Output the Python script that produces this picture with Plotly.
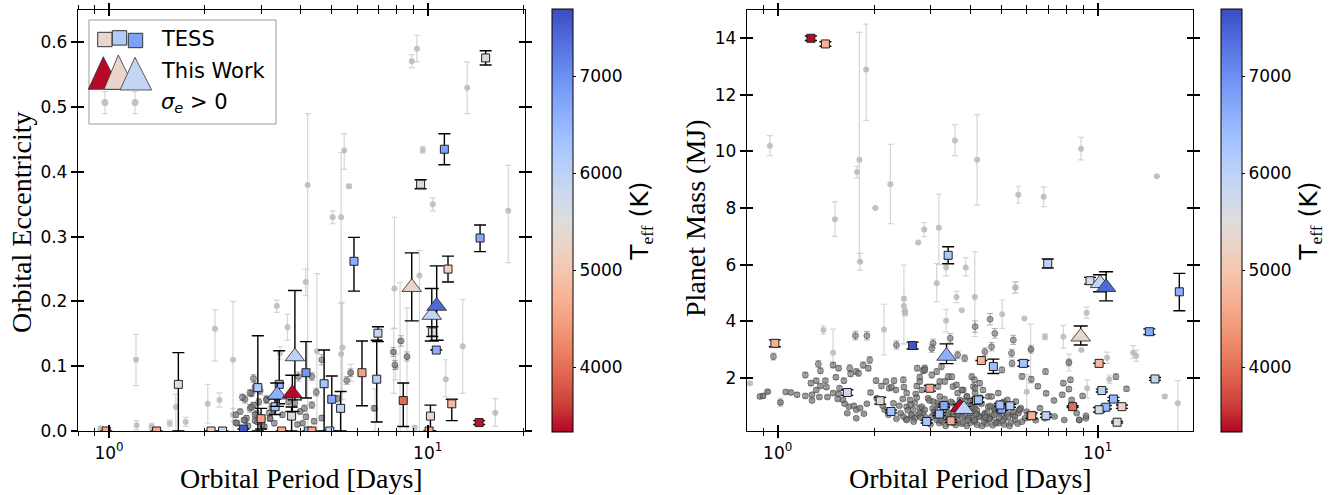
import math
import plotly.graph_objects as go

# ---------------- LEFT PANEL: eccentricity vs period ----------------
# background planets with sigma_e > 0 (light, with error bars)
ecc_bg_period = [1.215, 2.15, 2.45, 3.36, 3.44, 3.63, 4.14, 4.2, 5.47, 5.35, 5.66, 5.03, 8.91, 9.25, 9.65,
                 10.37, 13.3, 17.9, 7.86, 9.42, 8.19, 8.61, 7.82, 7.93, 12.88, 11.4, 16.3, 4.49, 5.35, 5.73,
                 6.84, 9.1, 1.62, 1.74, 1.55, 1.36, 1.22, 0.94, 2.04, 2.22, 2.45, 5.4]
ecc_bg_value = [0.11, 0.158, 0.11, 0.193, 0.12, 0.16, 0.23, 0.38, 0.433, 0.33, 0.378, 0.33, 0.571, 0.59, 0.434,
                0.35, 0.53, 0.34, 0.22, 0.24, 0.139, 0.114, 0.122, 0.099, 0.131, 0.08, 0.028, 0.123, 0.119, 0.09,
                0.035, 0.005, 0.037, 0.014, 0.012, 0.007, 0.009, 0.004, 0.042, 0.048, 0.025, 0.129]
ecc_bg_up = [0.039, 0.029, 0.09, 0.009, 0.01, 0.02, 0.02, 0.11, 0.026, 0.10, 0.003, 0.01, 0.01, 0.021, 0.005,
             0.01, 0.04, 0.07, 0.11, 0.039, 0.09, 0.076, 0.037, 0.02, 0.072, 0.03, 0.022, 0.12, 0.078, 0.013,
             0.03, 0.003, 0.02, 0.007, 0.005, 0.005, 0.007, 0.003, 0.03, 0.011, 0.01, 0.07]
ecc_bg_down = [0.04, 0.05, 0.11, 0.01, 0.01, 0.02, 0.021, 0.38, 0.029, 0.33, 0.003, 0.01, 0.01, 0.02, 0.005,
               0.01, 0.04, 0.08, 0.062, 0.24, 0.139, 0.114, 0.064, 0.02, 0.073, 0.027, 0.021, 0.123, 0.071, 0.013,
               0.035, 0.005, 0.037, 0.007, 0.005, 0.005, 0.007, 0.003, 0.03, 0.011, 0.01, 0.08]

# dense cluster of background planets (darker)
ecc_cl_period = [2.84, 2.8, 2.87, 2.84, 2.77, 2.7, 2.67, 2.52, 2.87, 2.9, 3.2, 3.12, 3.28, 3.66, 3.83, 3.93,
                 4.33, 4.47, 4.65, 4.65, 5.57, 5.2, 6.79, 7.89, 8.25, 2.67, 2.77, 2.8, 2.5, 2.5, 2.65, 2.87,
                 2.92, 3.07, 3.12, 3.2, 3.24, 3.35, 3.18, 3.98, 4.1, 4.15, 4.05, 4.33, 5.73, 7.8, 8.61,
                 2.58, 2.73, 2.95, 3.02, 3.3, 3.5, 3.9, 4.4, 2.62, 2.98]
ecc_cl_value = [0.081, 0.058, 0.068, 0.04, 0.035, 0.02, 0.016, 0.012, 0.016, 0.027, 0.02, 0.049, 0.032, 0.045,
                0.043, 0.084, 0.04, 0.06, 0.11, 0.02, 0.078, 0.05, 0.035, 0.102, 0.139, 0.049, 0.059, 0.037,
                0.013, 0.025, 0.017, 0.025, 0.014, 0.007, 0.048, 0.019, 0.037, 0.051, 0.028, 0.03, 0.035,
                0.022, 0.012, 0.084, 0.09, 0.122, 0.115,
                0.03, 0.008, 0.045, 0.009, 0.012, 0.025, 0.01, 0.015, 0.052, 0.062]
ecc_cl_err = [0.006, 0.005, 0.008, 0.004, 0.006, 0.004, 0.003, 0.004, 0.003, 0.005, 0.004, 0.006, 0.004, 0.005,
              0.006, 0.007, 0.005, 0.006, 0.008, 0.004, 0.006, 0.005, 0.004, 0.007, 0.008, 0.006, 0.005, 0.004,
              0.003, 0.004, 0.003, 0.004, 0.003, 0.003, 0.005, 0.004, 0.005, 0.006, 0.004, 0.004, 0.005,
              0.004, 0.003, 0.006, 0.006, 0.007, 0.007,
              0.004, 0.003, 0.005, 0.003, 0.004, 0.004, 0.003, 0.004, 0.005, 0.006]

# TESS planets
ecc_tess_period = [1.65, 0.98, 1.41, 2.09, 2.27, 2.64, 3.0, 2.93, 3.32, 3.42, 3.74, 3.48, 4.15, 4.22, 5.87,
                   11.58, 14.6, 10.34, 10.64, 6.98, 6.92, 6.22, 8.38, 10.2, 10.1, 11.9, 14.5, 5.0, 4.73,
                   5.33, 4.93, 4.33, 15.2, 11.28, 9.5]
ecc_tess_value = [0.072, 0.0, 0.0, 0.0, 0.0, 0.003, 0.019, 0.067, 0.0375, 0.072, 0.023, 0.0, 0.09, 0.0, 0.262,
                  0.25, 0.298, 0.153, 0.125, 0.151, 0.08, 0.09, 0.047, 0.023, 0.0, 0.042, 0.013, 0.049, 0.073,
                  0.035, 0.0, 0.0, 0.576, 0.435, 0.381]
ecc_tess_up = [0.049, 0, 0, 0, 0, 0, 0.016, 0.08, 0.012, 0.052, 0.014, 0, 0.048, 0, 0.037,
               0.02, 0.02, 0.008, 0, 0.01, 0.06, 0.049, 0.027, 0.017, 0, 0.007, 0.003, 0.036, 0.052,
               0.026, 0, 0, 0.011, 0.024, 0.007]
ecc_tess_down = [0.072, 0, 0, 0, 0, 0, 0.016, 0.067, 0.012, 0.03, 0.023, 0, 0.039, 0, 0.046,
                 0.02, 0.021, 0.007, 0, 0.013, 0.066, 0.051, 0.04, 0.023, 0, 0.026, 0.003, 0.049, 0.073,
                 0.035, 0, 0, 0.011, 0.024, 0.007]
ecc_tess_teff = [5500, 4600, 4600, 5200, 5900, 7600, 4500, 6200, 6300, 6500, 5400, 4600, 6900, 6500, 6600,
                 5200, 6700, 5600, 6600, 5900, 6100, 4500, 3950, 5300, 4600, 4800, 3400, 6700, 6300,
                 6000, 5900, 4600, 5600, 6800, 5400]

# This Work
ecc_new_period = [3.37, 3.83, 3.76, 8.91, 10.3, 10.67]
ecc_new_value = [0.056, 0.115, 0.058, 0.222, 0.179, 0.193]
ecc_new_up = [0.018, 0.102, 0.028, 0.053, 0.041, 0.062]
ecc_new_down = [0.018, 0.067, 0.028, 0.052, 0.04, 0.053]
ecc_new_teff = [6600, 6000, 3350, 5300, 5900, 7400]

# ---------------- RIGHT PANEL: planet mass vs period ----------------
mass_bg_period = [0.946, 1.89, 1.80, 1.77, 1.51, 2.02, 2.25, 2.75, 2.87, 3.19, 3.58, 4.2, 5.65, 6.78, 8.87,
                  15.3, 1.81, 1.39, 1.49, 2.15, 2.48, 2.5, 3.14, 3.36, 3.62, 3.87, 3.76, 4.13, 5.03, 5.52,
                  5.9, 6.17, 7.81, 8.89, 9.23, 10.7, 12.9, 13.2, 16.2, 17.8, 0.82, 0.9, 0.93, 1.02, 6.84,
                  8.13, 9.27, 6.0, 2.48, 2.5, 5.54, 10.87, 3.36]
mass_bg_value = [10.2, 12.9, 9.71, 9.27, 7.6, 8.0, 8.84, 6.78, 7.24, 7.3, 10.39, 9.71, 8.47, 8.4, 10.1,
                 9.12, 6.1, 3.69, 2.89, 3.71, 4.8, 4.34, 5.34, 5.9, 4.86, 5.9, 4.39, 4.86, 4.25, 5.18,
                 4.1, 3.0, 3.45, 2.98, 4.3, 2.71, 2.89, 2.78, 1.34, 1.1, 1.81, 1.36, 1.51, 1.13, 3.45,
                 2.54, 1.63, 1.51, 4.54, 4.3, 5.2, 1.95, 4.02]
mass_bg_up = [0.36, 1.6, 4.5, 0.2, 0.62, 0, 1.41, 0, 0.25, 1.19, 0.56, 1.59, 0.3, 0.35, 0.4,
              0, 0.3, 0.15, 0.83, 0.89, 1.18, 0.1, 0.7, 0.3, 0.2, 0.35, 0, 1.6, 0.5, 0.2,
              0, 0.9, 0.4, 0, 0.2, 0.2, 0.25, 0.2, 0.06, 0.8, 0.05, 0.05, 0.05, 0.15, 0.1,
              0.3, 0.3, 0.6, 0.2, 0.1, 0.2, 0.15, 0.4]
mass_bg_down = [0.35, 1.8, 3.6, 0.2, 0.6, 0, 1.39, 0, 0.25, 1.3, 0.54, 1.61, 0.3, 0.35, 0.4,
                0, 0.3, 0.15, 0.5, 0.9, 1.6, 0.1, 0.65, 0.3, 0.2, 0.3, 0, 1.4, 0.5, 0.2,
                0, 1.2, 0.4, 0, 0.2, 0.2, 0.2, 0.2, 0.06, 1.1, 0.05, 0.05, 0.05, 0.15, 0.1,
                0.3, 0.35, 0.8, 0.2, 0.1, 0.2, 0.15, 0.4]

mass_cl_period = [0.88, 0.93, 1.02, 1.1, 1.22, 1.22, 1.28, 1.27, 1.32, 1.34, 1.36, 1.41, 1.49, 1.55, 1.52, 1.36,
                  1.43, 1.35, 1.42, 1.32, 1.28, 1.49, 1.55, 1.56, 1.61, 1.68, 1.69, 1.76, 1.79, 1.54, 1.6,
                  1.62, 1.67, 1.73, 1.76, 1.81, 1.86, 1.76, 1.65, 1.9, 1.95, 2.04, 2.11, 2.18, 2.23, 2.27,
                  2.31, 2.34, 2.16, 2.13, 2.22, 2.47, 2.48, 2.53, 2.46, 2.59, 2.53, 2.68, 2.65, 2.62, 2.75,
                  2.78, 2.85, 2.7, 2.72, 2.78, 2.85, 2.88, 2.3, 2.4, 2.42, 2.52, 2.35, 0.97, 1.85, 1.92,
                  1.94, 2.03, 2.35, 1.75, 1.9, 2.47, 2.53, 2.62, 2.68, 2.78, 2.82, 2.88, 3.03, 3.1, 3.14,
                  3.25, 3.3, 3.41, 3.53, 3.58, 3.62, 3.67, 3.99, 4.04, 4.09, 4.14, 4.28, 4.44, 4.49, 4.66,
                  4.77, 4.83, 5.13, 5.42, 5.52, 5.7, 3.21, 3.06, 2.95, 2.82, 2.78, 2.88, 2.73, 3.03, 3.21,
                  3.41, 3.53, 3.65, 3.71, 3.8, 3.9, 4.04, 4.09, 4.14, 4.28, 4.38, 4.55, 4.66, 4.89, 5.0,
                  5.22, 5.35, 5.55, 5.75, 3.06, 3.03, 4.14, 3.84, 3.65, 3.46, 4.44, 4.61, 4.77, 4.66, 5.02,
                  5.45, 5.38, 5.4, 6.19, 6.87, 8.13, 8.22, 7.81, 7.75, 8.13, 8.29, 8.76, 9.19, 6.84, 7.33,
                  5.93, 5.65, 4.77, 4.55, 4.44, 4.14, 3.99, 3.9, 4.14, 4.12, 3.62, 3.76, 3.5, 3.33, 3.17,
                  3.14, 3.25, 3.0, 3.2, 3.35, 3.5, 3.6, 3.75, 3.9, 4.0, 4.2, 4.35, 4.5, 4.7, 4.9, 5.1,
                  5.3, 2.9, 3.1, 3.3, 3.45, 3.7, 3.85, 4.2, 4.6, 5.0, 6.0, 6.4, 6.6, 5.7, 8.6, 9.19,
                  8.75, 7.86, 8.97, 11.4, 12.3, 6.9, 7.3, 6.5, 6.2, 5.8, 0.9, 1.06, 1.15,
                  2.95, 3.05, 3.12, 3.18, 3.27, 3.38, 3.44, 3.52, 3.57, 3.64, 3.7, 3.79, 3.88, 3.95, 4.02,
                  4.11, 4.19, 4.25, 4.33, 4.41, 4.52, 4.58, 4.72, 4.8, 4.95, 5.05, 5.2, 5.35, 5.5, 5.62,
                  2.98, 3.08, 3.16, 3.23, 3.32, 3.4, 3.48, 3.55, 3.68, 3.77, 3.86, 3.93, 4.07, 4.16, 4.3,
                  4.46, 4.62, 4.75, 4.92, 5.08, 5.25, 5.45, 5.8, 6.1, 6.3, 2.55, 2.6, 2.66, 2.72, 2.8]
mass_cl_value = [1.34, 1.51, 1.13, 1.48, 2.1, 1.36, 1.2, 1.81, 1.9, 2.49, 2.25, 1.9, 2.45, 2.34, 2.02, 1.71,
                 1.32, 1.32, 1.67, 1.57, 1.4, 1.46, 1.43, 1.63, 1.9, 2.34, 2.14, 2.22, 2.16, 1.25, 1.22,
                 1.08, 0.98, 1.01, 0.87, 0.93, 0.73, 0.57, 0.75, 1.08, 1.48, 1.28, 1.71, 1.87, 1.63, 1.67,
                 1.9, 1.57, 0.87, 1.01, 0.69, 1.93, 1.67, 1.46, 1.25, 1.22, 0.98, 1.1, 0.87, 0.63, 0.69,
                 0.93, 0.77, 1.43, 1.71, 2.02, 2.25, 2.34, 1.1, 1.01, 0.75, 0.54, 0.55, 2.75, 2.45, 2.34,
                 2.63, 1.9, 3.16, 3.49, 3.49, 0.63, 0.51, 0.69, 0.57, 0.75, 0.98, 0.87, 0.63, 0.87, 0.51,
                 0.63, 0.57, 0.75, 0.63, 0.87, 0.51, 0.69, 0.75, 0.57, 0.93, 0.45, 0.63, 0.75, 0.51, 0.63,
                 0.81, 0.45, 0.57, 0.69, 0.51, 0.87, 1.34, 1.16, 1.28, 1.57, 1.87, 2.28, 2.34, 2.1, 1.87,
                 2.04, 1.69, 1.46, 1.22, 1.57, 1.34, 2.04, 1.69, 1.46, 1.81, 1.57, 1.34, 1.34, 1.46, 1.1,
                 1.22, 0.98, 1.16, 0.93, 3.22, 3.04, 3.81, 2.69, 2.81, 3.4, 2.92, 4.07, 3.57, 3.1, 2.28,
                 3.34, 2.87, 2.51, 3.01, 2.22, 2.54, 1.93, 1.81, 1.4, 1.6, 1.22, 0.51, 0.57, 0.57, 0.63,
                 0.57, 0.75, 0.87, 0.98, 0.69, 0.93, 1.16, 1.34, 1.63, 1.93, 1.75, 1.57, 2.04, 1.87, 1.69,
                 2.22, 2.4, 0.35, 0.4, 0.3, 0.42, 0.33, 0.38, 0.3, 0.41, 0.34, 0.3, 0.38, 0.32, 0.4, 0.35,
                 0.3, 0.6, 0.7, 0.85, 0.55, 0.8, 0.65, 0.72, 0.55, 0.7, 0.8, 0.5, 0.93, 0.87, 0.75, 0.66,
                 0.51, 0.51, 1.36, 2.04, 1.61, 1.45, 1.2, 1.7, 1.95, 2.05, 1.36, 1.5, 1.4,
                 0.48, 0.92, 0.66, 1.05, 0.46, 0.95, 0.6, 1.1, 0.44, 0.98, 0.7, 0.42, 0.9, 0.58, 1.02,
                 0.5, 0.85, 0.62, 1.08, 0.45, 0.78, 0.55, 0.95, 0.4, 0.82, 0.48, 0.74, 0.42, 0.66, 0.38,
                 1.2, 0.78, 1.12, 0.52, 1.25, 0.68, 1.15, 0.8, 1.05, 0.62, 1.18, 0.5, 1.12, 0.72, 1.3,
                 0.6, 1.0, 0.7, 0.6, 1.15, 0.62, 0.8, 0.45, 0.6, 0.72, 0.85, 1.05, 0.45, 1.3, 0.6]
mass_cl_err = [0.06, 0.05, 0.08, 0.06, 0.1, 0.07, 0.06, 0.09, 0.08, 0.12, 0.1, 0.08, 0.1, 0.09, 0.08, 0.07,
               0.06, 0.06, 0.07, 0.07, 0.06, 0.07, 0.06, 0.08, 0.09, 0.12, 0.1, 0.1, 0.1, 0.06, 0.06,
               0.05, 0.05, 0.05, 0.04, 0.05, 0.04, 0.04, 0.04, 0.05, 0.07, 0.06, 0.08, 0.09, 0.08, 0.08,
               0.09, 0.07, 0.05, 0.05, 0.04, 0.1, 0.08, 0.07, 0.06, 0.06, 0.05, 0.06, 0.05, 0.04, 0.04,
               0.05, 0.04, 0.07, 0.08, 0.1, 0.1, 0.11, 0.06, 0.05, 0.04, 0.03, 0.03, 0.12, 0.11, 0.1,
               0.12, 0.09, 0.15, 0.15, 0.15, 0.04, 0.03, 0.04, 0.03, 0.04, 0.05, 0.05, 0.04, 0.05, 0.03,
               0.04, 0.03, 0.04, 0.04, 0.05, 0.03, 0.04, 0.04, 0.03, 0.05, 0.03, 0.04, 0.04, 0.03, 0.04,
               0.05, 0.03, 0.03, 0.04, 0.03, 0.05, 0.07, 0.06, 0.06, 0.08, 0.09, 0.1, 0.1, 0.1, 0.09,
               0.1, 0.08, 0.07, 0.06, 0.08, 0.07, 0.1, 0.08, 0.07, 0.09, 0.08, 0.07, 0.07, 0.07, 0.06,
               0.06, 0.05, 0.06, 0.05, 0.15, 0.14, 0.2, 0.12, 0.13, 0.16, 0.14, 0.2, 0.17, 0.15, 0.1,
               0.16, 0.14, 0.12, 0.14, 0.1, 0.12, 0.09, 0.09, 0.07, 0.08, 0.06, 0.03, 0.03, 0.03, 0.03,
               0.03, 0.04, 0.05, 0.05, 0.04, 0.05, 0.06, 0.07, 0.08, 0.09, 0.08, 0.08, 0.1, 0.09, 0.08,
               0.1, 0.12, 0.02, 0.02, 0.02, 0.02, 0.02, 0.02, 0.02, 0.02, 0.02, 0.02, 0.02, 0.02, 0.02, 0.02,
               0.02, 0.03, 0.04, 0.04, 0.03, 0.04, 0.03, 0.04, 0.03, 0.04, 0.04, 0.03, 0.05, 0.05, 0.04, 0.03,
               0.03, 0.03, 0.07, 0.1, 0.08, 0.07, 0.06, 0.08, 0.1, 0.1, 0.07, 0.07, 0.07,
               0.03, 0.05, 0.04, 0.05, 0.03, 0.05, 0.04, 0.06, 0.03, 0.05, 0.04, 0.03, 0.05, 0.04, 0.05,
               0.03, 0.05, 0.04, 0.06, 0.03, 0.05, 0.04, 0.05, 0.03, 0.05, 0.03, 0.04, 0.03, 0.04, 0.03,
               0.06, 0.04, 0.06, 0.03, 0.06, 0.04, 0.06, 0.05, 0.05, 0.04, 0.06, 0.03, 0.06, 0.04, 0.07,
               0.04, 0.05, 0.04, 0.04, 0.06, 0.04, 0.05, 0.03, 0.04, 0.05, 0.05, 0.06, 0.03, 0.07, 0.04]

mass_tess_period = [1.27, 1.41, 0.98, 3.41, 2.64, 1.65, 2.09, 2.26, 2.99, 2.92, 3.2, 3.31, 3.48, 4.18, 4.24,
                    4.33, 4.72, 5.86, 5.01, 5.32, 4.95, 6.22, 6.98, 9.46, 17.99, 14.5, 10.1, 15.1, 10.3,
                    11.2, 10.6, 11.9, 10.1, 11.5, 8.35, 6.89]
mass_tess_value = [14.0, 13.8, 3.22, 6.33, 3.14, 1.48, 1.19, 0.81, 1.63, 0.455, 0.72, 1.02, 0.48, 1.2, 1.22,
                   2.61, 2.4, 2.51, 0.89, 1.01, 1.04, 0.66, 6.04, 5.43, 5.04, 3.63, 2.51, 1.96, 1.55,
                   1.25, 0.96, 0.98, 0.87, 0.43, 0.98, 0.66]
mass_tess_up = [0.08, 0.08, 0.12, 0.3, 0.12, 0.1, 0.12, 0.05, 0.1, 0.05, 0.05, 0.05, 0.05, 0.08, 0.08,
                0, 0.26, 0.1, 0.05, 0.05, 0.05, 0.1, 0.16, 0.12, 0.65, 0.1, 0, 0.05, 0.05,
                0.06, 0.06, 0.06, 0.08, 0.03, 0.03, 0.06]
mass_tess_down = [0.08, 0.08, 0.12, 0.3, 0.12, 0.1, 0.12, 0.05, 0.1, 0.05, 0.05, 0.05, 0.05, 0.08, 0.08,
                  0, 0.25, 0.1, 0.05, 0.05, 0.05, 0.1, 0.16, 0.12, 0.67, 0.1, 0, 0.05, 0.05,
                  0.06, 0.06, 0.06, 0.08, 0.03, 0.03, 0.06]
mass_tess_teff = [3350, 4700, 4700, 6200, 7600, 5800, 5300, 6300, 4600, 6300, 6300, 6700, 4600, 6700, 6300,
                  4700, 6400, 6300, 6700, 6100, 6300, 4700, 6000, 5700, 6600, 6700, 4800, 5900, 6000,
                  6500, 6500, 5300, 5700, 5600, 4000, 6000]

mass_new_period = [3.37, 3.71, 3.82, 8.85, 10.17, 10.62]
mass_new_value = [2.77, 0.96, 0.89, 3.45, 5.34, 5.2]
mass_new_up = [0.43, 0.1, 0.1, 0.38, 0.3, 0.55]
mass_new_down = [0.27, 0.1, 0.1, 0.29, 0.3, 0.48]
mass_new_teff = [6600, 3350, 6000, 5300, 5900, 7400]

teff_ticks = [4000, 5000, 6000, 7000]
teff_min, teff_max = 3330, 7690

# ---------------- styling ----------------
CW = [(0.0, (59, 76, 192)), (0.0625, (77, 104, 215)), (0.125, (98, 130, 234)), (0.1875, (119, 154, 247)),
      (0.25, (141, 176, 254)), (0.3125, (163, 194, 255)), (0.375, (184, 208, 249)), (0.4375, (204, 217, 238)),
      (0.5, (221, 221, 221)), (0.5625, (236, 211, 197)), (0.625, (245, 196, 173)), (0.6875, (247, 177, 148)),
      (0.75, (244, 154, 123)), (0.8125, (236, 127, 99)), (0.875, (222, 96, 77)), (0.9375, (203, 62, 56)),
      (1.0, (180, 4, 38))]
# reversed coolwarm: low Teff red, high Teff blue
CW_R = sorted([(1 - p, c) for p, c in CW])
colorscale = [[p, "rgb(%d,%d,%d)" % c] for p, c in CW_R]


def teff_color(t):
    f = (t - teff_min) / (teff_max - teff_min)
    f = min(max(f, 0), 1)
    for (p0, c0), (p1, c1) in zip(CW_R[:-1], CW_R[1:]):
        if p0 <= f <= p1:
            w = (f - p0) / (p1 - p0) if p1 > p0 else 0
            return "rgb(%d,%d,%d)" % tuple(round(a + (b - a) * w) for a, b in zip(c0, c1))
    return "rgb(%d,%d,%d)" % CW_R[-1][1]


W, H = 1333, 495
TICKFONT = dict(family="DejaVu Sans", size=17, color="black")
TITLEFONT = dict(family="Liberation Serif", size=28, color="black")
LIGHT = "rgba(185,185,185,0.85)"
LIGHT_ERR = "rgba(195,195,195,0.7)"

fig = go.Figure()


def add_panel(xa, ya, ca, bgP, bgV, bgU, bgD, clP, clV, clE, tP, tV, tU, tD, tT, nP, nV, nU, nD, nT):
    fig.add_trace(go.Scatter(
        x=bgP, y=bgV, mode="markers", xaxis=xa, yaxis=ya, showlegend=False,
        marker=dict(size=6, color=LIGHT, line=dict(width=0)),
        error_y=dict(type="data", symmetric=False, array=bgU, arrayminus=bgD,
                     color=LIGHT_ERR, thickness=1.2, width=3)))
    fig.add_trace(go.Scatter(
        x=clP, y=clV, mode="markers", xaxis=xa, yaxis=ya, showlegend=False,
        marker=dict(size=6, color="rgba(120,120,120,0.65)", line=dict(width=0.8, color="rgba(45,45,45,0.6)")),
        error_y=dict(type="data", array=clE, color="rgba(105,105,105,0.5)", thickness=1, width=3)))
    fig.add_trace(go.Scatter(
        x=tP, y=tV, mode="markers", xaxis=xa, yaxis=ya, name="TESS", showlegend=False,
        marker=dict(symbol="square", size=8, color=tT, coloraxis=ca, line=dict(width=1, color="#222")),
        error_y=dict(type="data", symmetric=False, array=tU, arrayminus=tD,
                     color="black", thickness=1.4, width=6)))
    fig.add_trace(go.Scatter(
        x=nP, y=nV, mode="markers", xaxis=xa, yaxis=ya, name="This Work", showlegend=False,
        marker=dict(symbol="triangle-up", size=17, color=nT, coloraxis=ca, line=dict(width=0.8, color="#222")),
        error_y=dict(type="data", symmetric=False, array=nU, arrayminus=nD,
                     color="black", thickness=1.4, width=7)))


add_panel("x", "y", "coloraxis", ecc_bg_period, ecc_bg_value, ecc_bg_up, ecc_bg_down,
          ecc_cl_period, ecc_cl_value, ecc_cl_err,
          ecc_tess_period, ecc_tess_value, ecc_tess_up, ecc_tess_down, ecc_tess_teff,
          ecc_new_period, ecc_new_value, ecc_new_up, ecc_new_down, ecc_new_teff)
add_panel("x2", "y2", "coloraxis2", mass_bg_period, mass_bg_value, mass_bg_up, mass_bg_down,
          mass_cl_period, mass_cl_value, mass_cl_err,
          mass_tess_period, mass_tess_value, mass_tess_up, mass_tess_down, mass_tess_teff,
          mass_new_period, mass_new_value, mass_new_up, mass_new_down, mass_new_teff)

# empty traces that carry the inward half of the ticks
fig.add_trace(go.Scatter(x=[], y=[], xaxis="x3", yaxis="y3", showlegend=False))
fig.add_trace(go.Scatter(x=[], y=[], xaxis="x4", yaxis="y4", showlegend=False))

minor_vals = [0.8, 0.9, 2, 3, 4, 5, 6, 7, 8, 9, 20]
L_DOM = [78 / W, 525 / W]
R_DOM = [747 / W, 1193 / W]
Y_DOM = [1 - 431 / H, 1 - 10 / H]
L_RANGE = [math.log10(0.799), math.log10(20.2)]
R_RANGE = [math.log10(0.802), math.log10(19.85)]


def xaxis_main(dom, rng, anchor):
    return dict(domain=dom, type="log", range=rng, anchor=anchor, automargin=False, showline=True,
                linecolor="black", linewidth=1.3, mirror="allticks", ticks="outside", ticklen=6, tickwidth=2,
                tickcolor="black", tickvals=[1, 10], ticktext=["10<sup>0</sup>", "10<sup>1</sup>"],
                tickfont=TICKFONT, showgrid=False, zeroline=False,
                minor=dict(tickvals=minor_vals, ticks="outside", ticklen=3.5, tickwidth=1, tickcolor="black",
                           showgrid=False))


def xaxis_over(over, rng, anchor):
    return dict(overlaying=over, matches=over, type="log", range=rng, anchor=anchor, automargin=False,
                showline=False, mirror="allticks", ticks="inside", ticklen=6, tickwidth=2, tickcolor="black",
                tickvals=[1, 10], showticklabels=False, showgrid=False, zeroline=False,
                minor=dict(tickvals=minor_vals, ticks="inside", ticklen=3.5, tickwidth=1, tickcolor="black",
                           showgrid=False))


def yaxis_main(rng, anchor, vals, fmt):
    return dict(domain=Y_DOM, range=rng, anchor=anchor, automargin=False, showline=True, linecolor="black",
                linewidth=1.3, mirror="allticks", ticks="outside", ticklen=6, tickwidth=2, tickcolor="black",
                tickvals=vals, tickformat=fmt, tickfont=TICKFONT, showgrid=False, zeroline=False)


def yaxis_over(over, rng, anchor, vals):
    return dict(overlaying=over, matches=over, range=rng, anchor=anchor, automargin=False, showline=False,
                mirror="allticks", ticks="inside", ticklen=6, tickwidth=2, tickcolor="black", tickvals=vals,
                showticklabels=False, showgrid=False, zeroline=False)


ecc_ticks = [0.0, 0.1, 0.2, 0.3, 0.4, 0.5, 0.6]
mass_ticks = [2, 4, 6, 8, 10, 12, 14]


def cbar(xpx):
    return dict(colorscale=colorscale, cmin=teff_min, cmax=teff_max,
                colorbar=dict(x=xpx / W, xanchor="left", xpad=0, ypad=0, y=1 - 220.6 / H, yanchor="middle",
                              len=(432 - 9.3) / H, lenmode="fraction", thickness=21, thicknessmode="pixels",
                              outlinewidth=1, outlinecolor="black", ticks="outside", ticklen=3,
                              tickcolor="black", tickvals=teff_ticks, tickfont=TICKFONT,
                              title=dict(text="T<sub><span style='font-family:Liberation Serif'>eff</span></sub> (K)",
                                         side="right", font=dict(family="DejaVu Sans", size=25, color="black"))))


# ---------------- manual legend (left panel) ----------------
def px(x):
    return x / W


def py(y):
    return 1 - y / H


shapes = [dict(type="rect", xref="paper", yref="paper", x0=px(89), x1=px(276), y0=py(124), y1=py(20),
               line=dict(color="#999999", width=1), fillcolor="rgba(255,255,255,0.85)", layer="above")]
leg_sq = [(97.7, 32.3, 5300), (112.3, 30.7, 6150), (128.3, 33.3, 6800)]
for x0, y0, t in leg_sq:
    shapes.append(dict(type="rect", xref="paper", yref="paper", x0=px(x0), x1=px(x0 + 14.4), y0=py(y0 + 14.4),
                       y1=py(y0), line=dict(color="#333", width=1), fillcolor=teff_color(t), layer="above"))
leg_tri = [(88.3, 120, 103.3, 56.7, 89.3, 3350), (104, 135, 118.3, 55, 89.3, 5300), (120, 151.7, 135, 57.3, 90, 5900)]
for xl, xr, xa_, ya_, yb, t in leg_tri:
    path = "M %f %f L %f %f L %f %f Z" % (px(xl), py(yb), px(xr), py(yb), px(xa_), py(ya_))
    shapes.append(dict(type="path", xref="paper", yref="paper", path=path,
                       line=dict(color="#333", width=0.8), fillcolor=teff_color(t), layer="above"))
for cx in (105, 135):
    shapes.append(dict(type="line", xref="paper", yref="paper", x0=px(cx), x1=px(cx), y0=py(113.5), y1=py(91.5),
                       line=dict(color=LIGHT_ERR, width=1.2), layer="above"))
    for cy in (91.5, 113.5):
        shapes.append(dict(type="line", xref="paper", yref="paper", x0=px(cx - 3), x1=px(cx + 3), y0=py(cy),
                           y1=py(cy), line=dict(color=LIGHT_ERR, width=1), layer="above"))
    shapes.append(dict(type="circle", xref="paper", yref="paper", x0=px(cx - 3.5), x1=px(cx + 3.5),
                       y0=py(102.5 + 3.5), y1=py(102.5 - 3.5), line=dict(width=0), fillcolor=LIGHT, layer="above"))

LEGFONT = dict(family="DejaVu Sans", size=21, color="black")
annotations = [
    dict(text="TESS", x=px(159), y=py(39), xref="paper", yref="paper", xanchor="left", yanchor="middle",
         showarrow=False, font=LEGFONT),
    dict(text="This Work", x=px(159), y=py(71), xref="paper", yref="paper", xanchor="left", yanchor="middle",
         showarrow=False, font=LEGFONT),
    dict(text="<i>σ</i><sub><i>e</i></sub> > 0", x=px(159), y=py(103), xref="paper", yref="paper",
         xanchor="left", yanchor="middle", showarrow=False, font=LEGFONT),
    # axis titles
    dict(text="Orbital Period [Days]", x=px(301.5), y=py(478), xref="paper", yref="paper", xanchor="center",
         yanchor="middle", showarrow=False, font=TITLEFONT),
    dict(text="Orbital Period [Days]", x=px(970), y=py(478), xref="paper", yref="paper", xanchor="center",
         yanchor="middle", showarrow=False, font=TITLEFONT),
    dict(text="Orbital Eccentricity", x=px(21), y=py(222), xref="paper", yref="paper", xanchor="center",
         yanchor="middle", textangle=-90, showarrow=False, font=TITLEFONT),
    dict(text="Planet Mass (MJ)", x=px(696), y=py(218), xref="paper", yref="paper", xanchor="center",
         yanchor="middle", textangle=-90, showarrow=False, font=TITLEFONT),
]

fig.update_layout(
    width=W, height=H, margin=dict(l=0, r=0, t=0, b=0, autoexpand=False),
    paper_bgcolor="white", plot_bgcolor="white", showlegend=False,
    xaxis=xaxis_main(L_DOM, L_RANGE, "y"),
    yaxis=yaxis_main([0, 0.65], "x", ecc_ticks, ".1f"),
    xaxis2=xaxis_main(R_DOM, R_RANGE, "y2"),
    yaxis2=yaxis_main([0.12, 15.0], "x2", mass_ticks, "d"),
    xaxis3=xaxis_over("x", L_RANGE, "y"),
    yaxis3=yaxis_over("y", [0, 0.65], "x", ecc_ticks),
    xaxis4=xaxis_over("x2", R_RANGE, "y2"),
    yaxis4=yaxis_over("y2", [0.12, 15.0], "x2", mass_ticks),
    coloraxis=cbar(552),
    coloraxis2=cbar(1221),
    shapes=shapes,
    annotations=annotations,
)

fig.write_html("out.html")
